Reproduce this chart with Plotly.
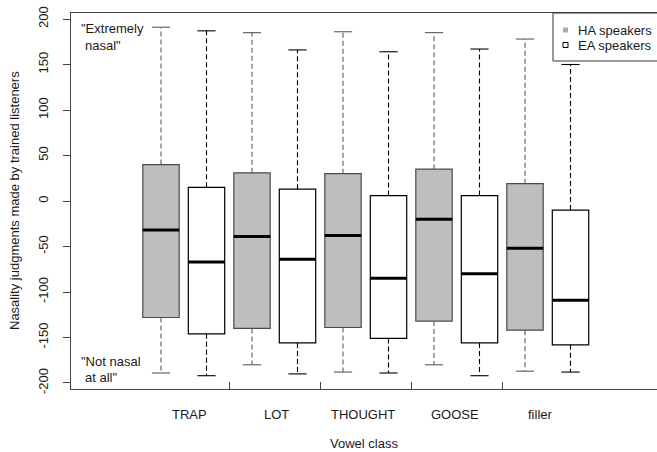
import plotly.graph_objects as go

categories = ["TRAP", "LOT", "THOUGHT", "GOOSE", "filler"]

# HA speakers (grey boxes)
ha_min = [-189, -180, -188, -180, -187]
ha_q1 = [-128, -140, -139, -132, -142]
ha_med = [-32, -39, -38, -20, -52]
ha_q3 = [40, 31, 30, 35, 19]
ha_max = [191, 185, 186, 185, 178]

# EA speakers (white boxes)
ea_min = [-192, -190, -189, -192, -188]
ea_q1 = [-146, -156, -151, -156, -158]
ea_med = [-67, -64, -85, -80, -109]
ea_q3 = [15, 13, 6, 6, -10]
ea_max = [187, 166, 164, 167, 150]

yticks = [-200, -150, -100, -50, 0, 50, 100, 150, 200]

FONT = "Liberation Sans, Arial, sans-serif"
TXT = "#1a1a1a"

ha_pos = [2 * i + 1 for i in range(len(categories))]
ea_pos = [2 * i + 2 for i in range(len(categories))]
BW = 0.8
SW = 0.4

fig = go.Figure()


def add_group(pos, mn, q1, med, q3, mx, fill, edge, wcol):
    wx, wy, sx, sy, mxs, mys = [], [], [], [], [], []
    for p, a, b, c, d, e in zip(pos, mn, q1, med, q3, mx):
        wx += [p, p, None, p, p, None]
        wy += [d, e, None, b, a, None]
        sx += [p - SW / 2, p + SW / 2, None, p - SW / 2, p + SW / 2, None]
        sy += [e, e, None, a, a, None]
        mxs += [p - BW / 2, p + BW / 2, None]
        mys += [c, c, None]
    fig.add_trace(go.Scatter(x=wx, y=wy, mode="lines", showlegend=False, hoverinfo="skip",
                             line=dict(color=wcol, width=1.1, dash="5px,3px")))
    fig.add_trace(go.Scatter(x=sx, y=sy, mode="lines", showlegend=False, hoverinfo="skip",
                             line=dict(color=wcol, width=1.1)))
    for p, b, c, d in zip(pos, q1, med, q3):
        fig.add_trace(go.Box(x=[p], q1=[b], median=[c], q3=[d], lowerfence=[b], upperfence=[d],
                             width=BW, whiskerwidth=0, fillcolor=fill,
                             line=dict(color=edge, width=1.2), showlegend=False,
                             boxpoints=False, hoverinfo="skip"))
    fig.add_trace(go.Scatter(x=mxs, y=mys, mode="lines", showlegend=False, hoverinfo="skip",
                             line=dict(color="black", width=3)))


add_group(ha_pos, ha_min, ha_q1, ha_med, ha_q3, ha_max, "#bebebe", "#4a4a4a", "#5a5a5a")
add_group(ea_pos, ea_min, ea_q1, ea_med, ea_q3, ea_max, "white", "black", "black")

W, H = 657, 452
L, R, T, B = 71, 0, 13, 63
pw, ph = W - L - R, H - T - B


def px_x(px):
    return (px - L) / pw


def px_y(py):
    return (H - B - py) / ph


annotations = []
# category labels (centred under each pair)
label_x = [1.63, 3.53, 5.43, 7.46, 9.33]
for lx, name in zip(label_x, categories):
    annotations.append(dict(x=lx, y=px_y(414), xref="x", yref="paper", text=name, showarrow=False,
                            xanchor="center", yanchor="middle", font=dict(family=FONT, size=13, color=TXT)))
annotations.append(dict(x=0.5, y=px_y(443), xref="paper", yref="paper", text="Vowel class", showarrow=False,
                        xanchor="center", yanchor="middle", font=dict(family=FONT, size=13, color=TXT)))
annotations.append(dict(x=px_x(14), y=0.5, xref="paper", yref="paper",
                        text="Nasality judgments made by trained listeners", textangle=-90, showarrow=False,
                        xanchor="center", yanchor="middle", font=dict(family=FONT, size=13, color=TXT)))
for txt, x, y in [('"Extremely', 79, 29), ('nasal"', 83, 45), ('"Not nasal', 79, 361), ('at all"', 83, 377)]:
    annotations.append(dict(x=px_x(x), y=px_y(y), xref="paper", yref="paper", text=txt, showarrow=False,
                            xanchor="left", yanchor="middle", font=dict(family=FONT, size=13, color=TXT)))
for txt, y in [("HA speakers", 31), ("EA speakers", 45)]:
    annotations.append(dict(x=px_x(576), y=px_y(y), xref="paper", yref="paper", text=txt, showarrow=False,
                            xanchor="left", yanchor="middle", font=dict(family=FONT, size=13, color=TXT)))

shapes = [
    dict(type="rect", xref="paper", yref="paper", x0=px_x(553), x1=1.05, y0=px_y(61), y1=1,
         line=dict(color="#333", width=1), fillcolor="white", layer="above"),
    dict(type="rect", xref="paper", yref="paper", x0=px_x(563), x1=px_x(568), y0=px_y(32.5), y1=px_y(27.5),
         line=dict(width=0), fillcolor="#aaaaaa", layer="above"),
    dict(type="rect", xref="paper", yref="paper", x0=px_x(563), x1=px_x(568), y0=px_y(47.5), y1=px_y(42.5),
         line=dict(color="black", width=1), fillcolor="white", layer="above"),
]

fig.update_layout(
    width=W, height=H, margin=dict(l=L, r=R, t=T, b=B, pad=0),
    paper_bgcolor="white", plot_bgcolor="white",
    showlegend=False, annotations=annotations, shapes=shapes,
    xaxis=dict(range=[1 + (L - 161) / 45.5, 1 + (W - 161) / 45.5], showgrid=False, zeroline=False,
               showline=True, mirror=True, linecolor="#444", linewidth=1,
               tickmode="array", tickvals=[2.5, 4.5, 6.5, 8.5], showticklabels=False,
               ticks="inside", ticklen=7, tickcolor="#444", tickwidth=1),
    yaxis=dict(range=[-206.6, 206.6], showgrid=False, zeroline=False,
               showline=True, linecolor="#444", linewidth=1,
               tickmode="array", tickvals=yticks, ticktext=[str(v) for v in yticks],
               ticks="outside", ticklen=7, tickcolor="#444", tickwidth=1, tickangle=-90,
               ticklabelstandoff=10,
               tickfont=dict(family=FONT, size=13, color=TXT)),
)

fig.write_html("out.html")
